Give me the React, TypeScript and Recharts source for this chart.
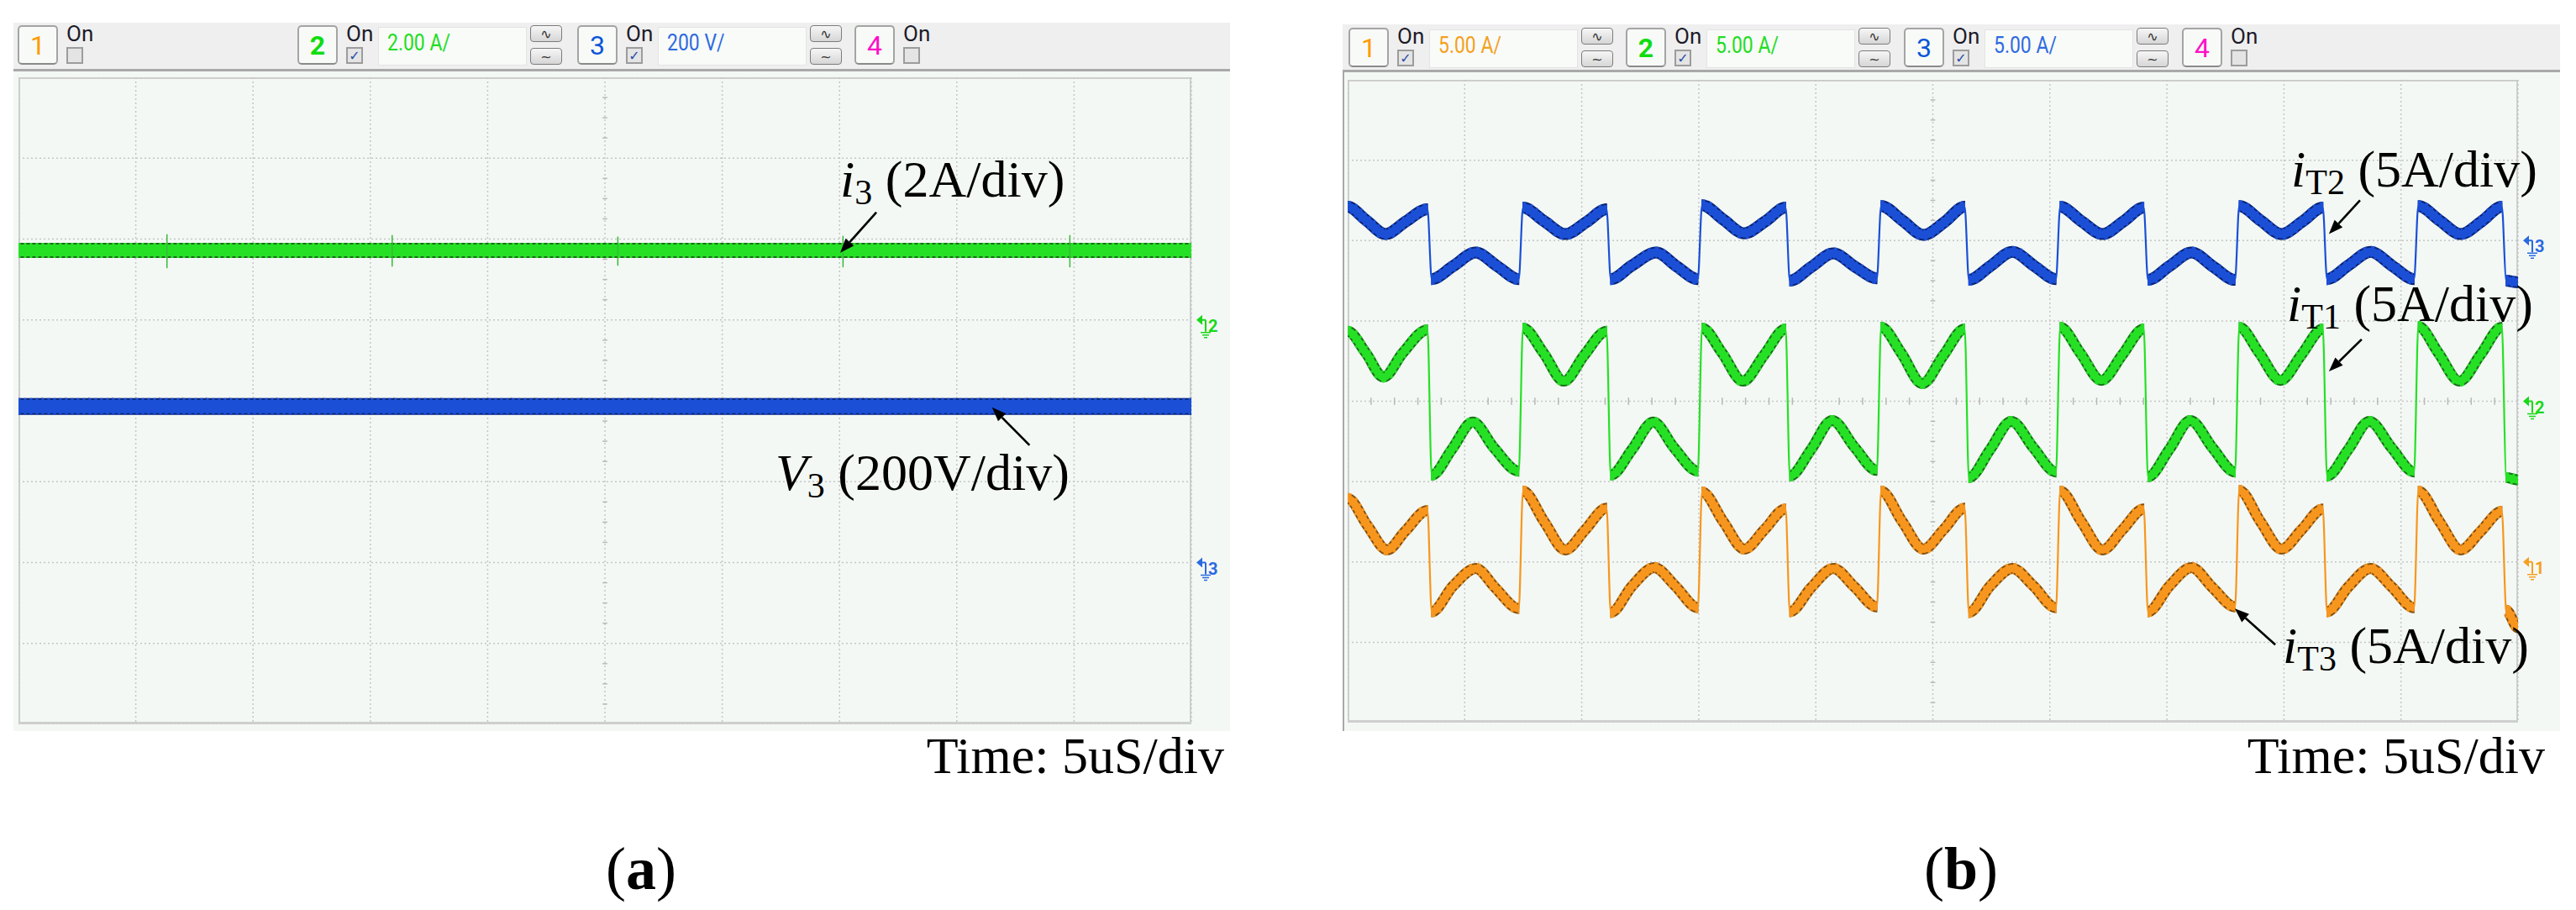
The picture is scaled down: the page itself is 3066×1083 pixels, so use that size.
import React from 'react';
import { LineChart, Line, XAxis, YAxis, CartesianGrid, ReferenceLine, ReferenceDot } from 'recharts';

type Pt = [number, number];

// time axis in µs (5 µs/div, 10 div), vertical axis in screen divisions (8 div)
const X_TICKS = [0, 5, 10, 15, 20, 25, 30, 35, 40, 45, 50];
const Y_TICKS = [-4, -3, -2, -1, 0, 1, 2, 3, 4];

// (a) i3 and V3 are flat
const A_I3: Pt[] = [[0, 1.86], [50, 1.86]];
const A_V3: Pt[] = [[0, -0.07], [50, -0.07]];
// switching spikes riding on i3: [t, low, high]
const A_I3_SPIKES = [[6.33, 1.64, 2.06], [15.93, 1.66, 2.05], [25.55, 1.67, 2.03], [35.15, 1.65, 2.04], [44.82, 1.65, 2.05]];

// (b) iT2 (ch3, blue)
const B_IT2: Pt[] = [
  [0, 2.42], [0.8, 2.25], [1.62, 2.08], [2.5, 2.24], [3.41, 2.39],
  [3.59, 1.52], [4.5, 1.68], [5.47, 1.85], [6.4, 1.68], [7.31, 1.52],
  [7.49, 2.41], [8.4, 2.24], [9.3, 2.08], [10.2, 2.23], [11.06, 2.39],
  [11.24, 1.52], [12.15, 1.69], [13.18, 1.85], [14.05, 1.68], [14.96, 1.52],
  [15.14, 2.44], [16.05, 2.26], [16.94, 2.09], [17.85, 2.24], [18.71, 2.41],
  [18.89, 1.5], [19.8, 1.67], [20.75, 1.84], [21.7, 1.67], [22.61, 1.53],
  [22.79, 2.43], [23.7, 2.25], [24.6, 2.07], [25.5, 2.23], [26.36, 2.42],
  [26.54, 1.51], [27.45, 1.68], [28.4, 1.86], [29.35, 1.68], [30.26, 1.52],
  [30.44, 2.42], [31.35, 2.24], [32.25, 2.08], [33.15, 2.24], [34.01, 2.41],
  [34.19, 1.51], [35.1, 1.68], [36.05, 1.85], [37.0, 1.67], [37.91, 1.51],
  [38.09, 2.43], [39.0, 2.25], [39.9, 2.08], [40.8, 2.24], [41.66, 2.41],
  [41.84, 1.52], [42.75, 1.69], [43.7, 1.86], [44.65, 1.68], [45.56, 1.52],
  [45.74, 2.43], [46.65, 2.25], [47.55, 2.08], [48.45, 2.24], [49.31, 2.42],
  [49.49, 1.5], [50, 1.48],
];

// (b) iT1 (ch2, green)
const B_IT1: Pt[] = [
  [0, 0.87], [0.78, 0.6], [1.53, 0.3], [2.35, 0.6], [3.41, 0.89],
  [3.59, -0.92], [4.45, -0.6], [5.35, -0.26], [6.25, -0.58], [7.31, -0.87],
  [7.49, 0.91], [8.37, 0.6], [9.24, 0.25], [10.1, 0.57], [11.06, 0.87],
  [11.24, -0.92], [12.15, -0.6], [13.06, -0.26], [13.95, -0.58], [14.96, -0.87],
  [15.14, 0.91], [16.0, 0.6], [16.88, 0.25], [17.8, 0.58], [18.71, 0.9],
  [18.89, -0.93], [19.8, -0.6], [20.7, -0.24], [21.65, -0.57], [22.61, -0.86],
  [22.79, 0.92], [23.65, 0.6], [24.55, 0.22], [25.45, 0.57], [26.36, 0.9],
  [26.54, -0.95], [27.45, -0.6], [28.35, -0.25], [29.3, -0.58], [30.26, -0.88],
  [30.44, 0.92], [31.3, 0.6], [32.2, 0.26], [33.1, 0.58], [34.01, 0.9],
  [34.19, -0.94], [35.1, -0.6], [36.0, -0.24], [36.95, -0.58], [37.91, -0.88],
  [38.09, 0.92], [38.95, 0.6], [39.85, 0.26], [40.75, 0.58], [41.66, 0.9],
  [41.84, -0.93], [42.75, -0.6], [43.65, -0.25], [44.6, -0.58], [45.56, -0.88],
  [45.74, 0.93], [46.6, 0.6], [47.5, 0.25], [48.4, 0.58], [49.31, 0.92],
  [49.49, -0.95], [50, -0.98],
];

// (b) iT3 (ch1, orange)
const B_IT3: Pt[] = [
  [0, -1.21], [0.85, -1.55], [1.69, -1.85], [2.45, -1.62], [3.41, -1.36],
  [3.59, -2.62], [4.5, -2.3], [5.48, -2.08], [6.3, -2.32], [7.31, -2.58],
  [7.49, -1.12], [8.4, -1.5], [9.3, -1.85], [10.15, -1.6], [11.06, -1.33],
  [11.24, -2.63], [12.15, -2.3], [13.1, -2.07], [14.0, -2.3], [14.96, -2.57],
  [15.14, -1.13], [16.05, -1.5], [16.95, -1.84], [17.8, -1.6], [18.71, -1.34],
  [18.89, -2.62], [19.8, -2.32], [20.75, -2.08], [21.65, -2.31], [22.61, -2.56],
  [22.79, -1.12], [23.7, -1.5], [24.6, -1.84], [25.45, -1.6], [26.36, -1.33],
  [26.54, -2.63], [27.45, -2.3], [28.4, -2.08], [29.3, -2.3], [30.26, -2.57],
  [30.44, -1.12], [31.35, -1.5], [32.25, -1.85], [33.1, -1.6], [34.01, -1.34],
  [34.19, -2.62], [35.1, -2.3], [36.05, -2.07], [36.95, -2.32], [37.91, -2.56],
  [38.09, -1.11], [39.0, -1.5], [39.9, -1.84], [40.75, -1.6], [41.66, -1.34],
  [41.84, -2.62], [42.75, -2.31], [43.7, -2.08], [44.6, -2.31], [45.56, -2.57],
  [45.74, -1.12], [46.65, -1.5], [47.55, -1.85], [48.4, -1.62], [49.31, -1.37],
  [49.49, -2.6], [50, -2.82],
];

const BLUE = '#1b4fd6';
const BLUE_DK = '#0b2270';
const GREEN = '#26e026';
const GREEN_DK = '#1a6e1a';
const ORANGE = '#f7961e';
const ORANGE_DK = '#84500f';

const UI_FONT = 'Roboto, "DejaVu Sans", sans-serif';
const SERIF = '"Liberation Serif", "Times New Roman", serif';

const GRID_A = { left: 22, top: 92, w: 1396, h: 770 };
const GRID_B = { left: 1604, top: 95, w: 1393, h: 765 };

const rows = (pts: Pt[]) => pts.map(([t, v]) => ({ t, v }));

// noise band: broken at the switching edges so the edges stay thin.
// each run is padded with a repeat of its end values so the curve is flat there
const band = (pts: Pt[]) => {
  const out: any[] = [];
  let fresh = true;
  pts.forEach((p, i) => {
    const next = pts[i + 1];
    const edge = next && next[0] - p[0] < 0.3;
    if (fresh) out.push({ t: p[0] - 0.02, v: p[1] });
    out.push({ t: p[0], v: p[1] });
    if (edge || !next) {
      out.push({ t: p[0] + 0.02, v: p[1] });
      if (edge) out.push({ t: (p[0] + next[0]) / 2, v: null });
      fresh = true;
    } else {
      fresh = false;
    }
  });
  return out;
};

function trace(id: string, pts: Pt[], color: string, dark: string, width: number, curve: any) {
  return [
    <Line key={id + 'd'} data={band(pts)} dataKey="v" type={curve} stroke={dark} strokeWidth={width + 3} dot={false} isAnimationActive={false} />,
    <Line key={id + 'e'} data={band(pts)} dataKey="v" type={curve} stroke={color} strokeWidth={width + 3} strokeDasharray="3 4" dot={false} isAnimationActive={false} />,
    <Line key={id + 'b'} data={band(pts)} dataKey="v" type={curve} stroke={color} strokeWidth={width - 1} dot={false} isAnimationActive={false} />,
    <Line key={id + 't'} data={rows(pts)} dataKey="v" type={curve} stroke={color} strokeWidth={2.2} dot={false} isAnimationActive={false} />,
  ];
}

function minorTicks() {
  const out: any[] = [];
  for (let i = 1; i < 50; i++) {
    if (i % 5 === 0) continue;
    out.push(<ReferenceLine key={'mx' + i} segment={[{ x: i, y: -0.045 }, { x: i, y: 0.045 }]} stroke="#b8b8b8" strokeWidth={1.5} ifOverflow="visible" />);
  }
  for (let j = 1; j < 32; j++) {
    if (j % 4 === 0) continue;
    const v = -4 + j * 0.25;
    out.push(<ReferenceLine key={'my' + j} segment={[{ x: 24.9, y: v }, { x: 25.1, y: v }]} stroke="#b8b8b8" strokeWidth={1.5} ifOverflow="visible" />);
  }
  return out;
}

const arrowShape = (p: any) => {
  const { x1, y1, x2, y2 } = p;
  const a = Math.atan2(y2 - y1, x2 - x1);
  const L = 17;
  const W = 6.5;
  const bx = x2 - L * Math.cos(a);
  const by = y2 - L * Math.sin(a);
  const px = -Math.sin(a) * W;
  const py = Math.cos(a) * W;
  return (
    <g>
      <line x1={x1} y1={y1} x2={bx} y2={by} stroke="#000" strokeWidth={2.6} />
      <polygon points={`${x2},${y2} ${bx + px},${by + py} ${bx - px},${by - py}`} fill="#000" />
    </g>
  );
};

const noteShape = (main: string, sub: string, rest: string) => (p: any) => (
  <text x={p.cx} y={p.cy} fontFamily={SERIF} fontSize={62} fill="#000">
    <tspan fontStyle="italic">{main}</tspan>
    <tspan fontSize={42} dy={9}>{sub}</tspan>
    <tspan dy={-9}>{rest}</tspan>
  </text>
);

const groundShape = (n: string, color: string) => (p: any) => {
  const x = p.cx + 6;
  const y = p.cy;
  return (
    <g stroke={color} fill={color}>
      <polygon points={`${x},${y} ${x + 7},${y - 6} ${x + 7},${y + 6}`} stroke="none" />
      <line x1={x + 6} y1={y} x2={x + 11} y2={y} strokeWidth={2} />
      <line x1={x + 11} y1={y} x2={x + 11} y2={y + 14} strokeWidth={2} />
      <line x1={x + 5} y1={y + 15} x2={x + 17} y2={y + 15} strokeWidth={1.5} />
      <line x1={x + 7} y1={y + 18} x2={x + 15} y2={y + 18} strokeWidth={1.5} />
      <line x1={x + 9} y1={y + 21} x2={x + 13} y2={y + 21} strokeWidth={1.5} />
      <text x={x + 14} y={y + 14} fontSize={20} fontWeight="bold" fontFamily={UI_FONT} stroke="none">{n}</text>
    </g>
  );
};

function ScopeChart({ box, children }: any) {
  return (
    <div style={{ position: 'absolute', left: box.left, top: box.top }}>
      <LineChart width={box.w + 60} height={box.h} margin={{ top: 0, right: 60, bottom: 0, left: 0 }}>
        <CartesianGrid stroke="#c6c6c6" strokeDasharray="2 3" strokeWidth={1.5} />
        <XAxis type="number" dataKey="t" domain={[0, 50]} ticks={X_TICKS} hide allowDataOverflow height={0} />
        <YAxis type="number" domain={[-4, 4]} ticks={Y_TICKS} hide allowDataOverflow width={0} />
        {minorTicks()}
        {children}
      </LineChart>
    </div>
  );
}

function ChannelControl({ x, y, n, color, bold, on, scale, scaleColor }: any) {
  const btn = { position: 'absolute', borderRadius: 4, border: '1.5px solid #7c7c7c', background: 'linear-gradient(#f6f6f6, #d6d6d6)', width: 38, height: 20, display: 'flex', alignItems: 'center', justifyContent: 'center', fontFamily: '"DejaVu Sans", sans-serif', fontSize: 16, color: '#333', boxSizing: 'border-box' } as any;
  return (
    <>
      <div style={{ position: 'absolute', left: x, top: y, width: 48, height: 47, boxSizing: 'border-box', border: '2px solid #a4a4a4', borderBottomColor: '#8a8a8a', borderRadius: 5, background: '#f8faf8', display: 'flex', alignItems: 'center', justifyContent: 'center', fontFamily: UI_FONT, fontSize: 32, fontWeight: bold ? 700 : 400, color }}>{n}</div>
      <div style={{ position: 'absolute', left: x + 58, top: y - 5, fontFamily: UI_FONT, fontSize: 26, color: '#1c1c2a' }}>On</div>
      <div style={{ position: 'absolute', left: x + 58, top: y + 26, width: 20, height: 20, boxSizing: 'border-box', border: '2px solid #9c9c9c', background: '#e4e4e4', display: 'flex', alignItems: 'center', justifyContent: 'center', fontFamily: '"DejaVu Sans", sans-serif', fontSize: 16, fontWeight: 700, color: '#2a4aa8' }}>{on ? '✓' : ''}</div>
      {scale && (
        <>
          <div style={{ position: 'absolute', left: x + 96, top: y + 2, width: 177, height: 46, boxSizing: 'border-box', background: '#f8fbf8', border: '1px solid #e4e4e4' }}>
            <span style={{ position: 'absolute', left: 10, top: 2, fontFamily: UI_FONT, fontSize: 27, color: scaleColor, transform: 'scaleX(0.85)', transformOrigin: 'left', whiteSpace: 'nowrap' }}>{scale}</span>
          </div>
          <div style={{ ...btn, left: x + 277, top: y }}>∿</div>
          <div style={{ ...btn, left: x + 277, top: y + 27 }}>~</div>
        </>
      )}
    </>
  );
}

const CHANNELS_A = [
  { x: 21, n: '1', color: '#ff9a00', on: false },
  { x: 354, n: '2', color: '#10dd10', bold: true, on: true, scale: '2.00 A/', scaleColor: '#22dd22' },
  { x: 687, n: '3', color: '#0a55d8', on: true, scale: '200 V/', scaleColor: '#2f6ae0' },
  { x: 1017, n: '4', color: '#ff10c8', on: false },
];
const CHANNELS_B = [
  { x: 1605, n: '1', color: '#ff9a00', on: true, scale: '5.00 A/', scaleColor: '#f5a020' },
  { x: 1935, n: '2', color: '#10dd10', bold: true, on: true, scale: '5.00 A/', scaleColor: '#22dd22' },
  { x: 2266, n: '3', color: '#0a55d8', on: true, scale: '5.00 A/', scaleColor: '#2f6ae0' },
  { x: 2597, n: '4', color: '#ff10c8', on: false },
];

export default function App() {
  return (
    <div style={{ position: 'absolute', left: 0, top: 0, width: 3066, height: 1083, background: '#fff', overflow: 'hidden' }}>
      {/* panel (a) frame */}
      <div style={{ position: 'absolute', left: 16, top: 27, width: 1448, height: 55, background: '#efefef', borderBottom: '3px solid #a9a9a9' }} />
      <div style={{ position: 'absolute', left: 16, top: 85, width: 1448, height: 785, background: '#f4f8f5' }} />
      <div style={{ position: 'absolute', left: GRID_A.left, top: GRID_A.top, width: GRID_A.w, height: GRID_A.h, boxSizing: 'border-box', border: '2px solid #cfcfcf', borderBottomWidth: 3, background: '#f3f8f4' }} />
      {CHANNELS_A.map((c) => <ChannelControl key={'a' + c.n} y={30} {...c} />)}

      {/* panel (b) frame */}
      <div style={{ position: 'absolute', left: 1598, top: 29, width: 1449, height: 54, background: '#efefef', borderBottom: '3px solid #a9a9a9' }} />
      <div style={{ position: 'absolute', left: 1598, top: 86, width: 1449, height: 784, background: '#f4f8f5', boxSizing: 'border-box', borderLeft: '2px solid #a8a8a8' }} />
      <div style={{ position: 'absolute', left: GRID_B.left, top: GRID_B.top, width: GRID_B.w, height: GRID_B.h, boxSizing: 'border-box', border: '2px solid #cfcfcf', borderBottomWidth: 3, background: '#f3f8f4' }} />
      {CHANNELS_B.map((c) => <ChannelControl key={'b' + c.n} y={33} {...c} />)}

      <ScopeChart box={GRID_A}>
        {trace('a-i3', A_I3, GREEN, GREEN_DK, 15, 'linear')}
        {trace('a-v3', A_V3, BLUE, BLUE_DK, 17, 'linear')}
        {A_I3_SPIKES.map(([t, lo, hi]) => (
          <ReferenceLine key={'sp' + t} segment={[{ x: t, y: lo }, { x: t, y: hi }]} stroke="#3ab83a" strokeWidth={1.5} ifOverflow="visible" />
        ))}
        <ReferenceDot x={50} y={1.0} r={0} ifOverflow="visible" shape={groundShape('2', '#18d818')} />
        <ReferenceDot x={50} y={-2.0} r={0} ifOverflow="visible" shape={groundShape('3', '#2a6ae0')} />
        <ReferenceLine segment={[{ x: 36.57, y: 2.33 }, { x: 35.03, y: 1.83 }]} ifOverflow="visible" shape={arrowShape} />
        <ReferenceLine segment={[{ x: 43.1, y: -0.55 }, { x: 41.5, y: -0.08 }]} ifOverflow="visible" shape={arrowShape} />
        <ReferenceDot x={35.03} y={2.525} r={0} ifOverflow="visible" shape={noteShape('i', '3', ' (2A/div)')} />
        <ReferenceDot x={32.27} y={-1.1} r={0} ifOverflow="visible" shape={noteShape('V', '3', ' (200V/div)')} />
      </ScopeChart>

      <ScopeChart box={GRID_B}>
        {trace('b-it2', B_IT2, BLUE, BLUE_DK, 11, 'monotone')}
        {trace('b-it1', B_IT1, GREEN, GREEN_DK, 10, 'monotone')}
        {trace('b-it3', B_IT3, ORANGE, ORANGE_DK, 10, 'monotone')}
        <ReferenceDot x={50} y={2.0} r={0} ifOverflow="visible" shape={groundShape('3', '#2a6ae0')} />
        <ReferenceDot x={50} y={0} r={0} ifOverflow="visible" shape={groundShape('2', '#18d818')} />
        <ReferenceDot x={50} y={-2.0} r={0} ifOverflow="visible" shape={groundShape('1', '#f5a020')} />
        <ReferenceLine segment={[{ x: 43.25, y: 2.5 }, { x: 41.92, y: 2.08 }]} ifOverflow="visible" shape={arrowShape} />
        <ReferenceLine segment={[{ x: 43.32, y: 0.77 }, { x: 41.92, y: 0.37 }]} ifOverflow="visible" shape={arrowShape} />
        <ReferenceLine segment={[{ x: 39.63, y: -3.03 }, { x: 37.9, y: -2.58 }]} ifOverflow="visible" shape={arrowShape} />
        <ReferenceDot x={40.31} y={2.67} r={0} ifOverflow="visible" shape={noteShape('i', 'T2', ' (5A/div)')} />
        <ReferenceDot x={40.13} y={1.0} r={0} ifOverflow="visible" shape={noteShape('i', 'T1', ' (5A/div)')} />
        <ReferenceDot x={39.95} y={-3.26} r={0} ifOverflow="visible" shape={noteShape('i', 'T3', ' (5A/div)')} />
      </ScopeChart>

      <svg width={3066} height={1083} style={{ position: 'absolute', left: 0, top: 0, pointerEvents: 'none' }}>
        <text x={1457} y={920} textAnchor="end" fontFamily={SERIF} fontSize={62}>Time: 5uS/div</text>
        <text x={3029} y={920} textAnchor="end" fontFamily={SERIF} fontSize={62}>Time: 5uS/div</text>
        <text x={763} y={1058} textAnchor="middle" fontFamily={SERIF} fontSize={72}>(<tspan fontWeight="bold">a</tspan>)</text>
        <text x={2334} y={1058} textAnchor="middle" fontFamily={SERIF} fontSize={72}>(<tspan fontWeight="bold">b</tspan>)</text>
      </svg>
    </div>
  );
}
